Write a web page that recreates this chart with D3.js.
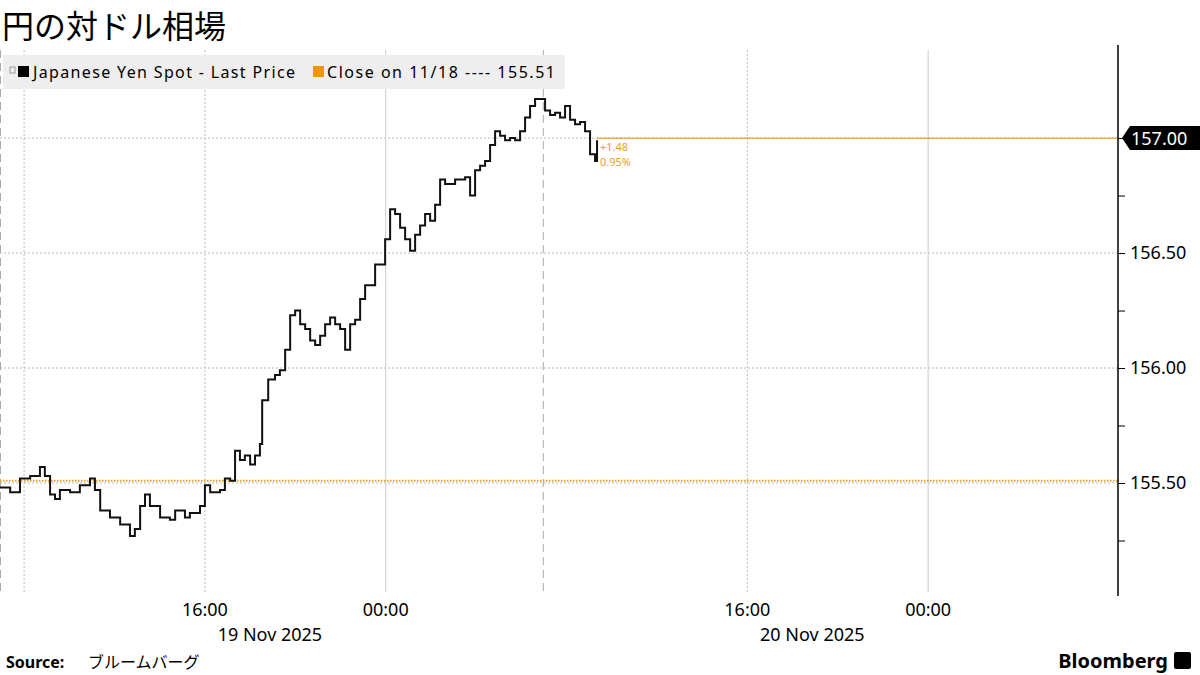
<!DOCTYPE html>
<html><head><meta charset="utf-8">
<script src="https://cdn.jsdelivr.net/npm/d3@7"></script>
<style>body{margin:0;background:#fff;font-family:"Noto Sans",Arial,sans-serif;}</style>
</head><body>
<script>
var title = "円の対ドル相場";
var startTime = "2025-11-19T06:56";
// minutes after startTime for each close
var earlyMinutes = [0,27,53,80,106,119,133,146,159,186,212,239,252,266,292,319,345,358,372,385,398,425,451,465,491,504,531,544,558,584,597,611,624,637,650,664,677,690,696,712,730,743];
var laterStart = 757, laterStep = 13.27, lastMinute = 1585;
var closes = [155.48,155.46,155.52,155.53,155.57,155.53,155.45,155.43,155.47,155.46,155.49,155.52,155.47,155.38,155.35,155.32,155.27,155.30,155.40,155.45,
155.40,155.35,155.34,155.38,155.35,155.37,155.40,155.49,155.46,155.47,155.52,155.51,155.64,155.60,155.62,155.58,155.62,155.67,155.86,155.95,
155.97,155.99,156.08,156.23,156.25,156.19,156.17,156.12,156.10,156.14,156.19,156.22,156.19,156.17,156.08,156.19,156.21,156.30,156.36,156.36,
156.45,156.45,156.56,156.69,156.67,156.61,156.56,156.51,156.58,156.62,156.67,156.64,156.71,156.82,156.80,156.80,156.82,156.82,156.83,156.75,
156.86,156.88,156.90,156.97,157.03,157.01,156.99,157.00,156.99,157.03,157.09,157.14,157.17,157.17,157.12,157.10,157.11,157.09,157.14,157.08,
157.06,157.07,157.03,156.93,156.90,156.99];
var prevClose = 155.51;
var lastPrice = 157.00;
var yTicks = [155.5, 156.0, 156.5, 157.0];
var yMinor = [155.25, 155.75, 156.25, 156.75];
var dottedTimes = ["2025-11-19T08:00","2025-11-19T16:00","2025-11-20T16:00"];
var dayTimes = ["2025-11-20T00:00","2025-11-21T00:00"];
var sessionTimes = ["2025-11-19T06:56","2025-11-20T06:57"];
var xLabels = [["2025-11-19T16:00","16:00","19 Nov 2025"],["2025-11-20T00:00","00:00",""],["2025-11-20T16:00","16:00","20 Nov 2025"],["2025-11-21T00:00","00:00",""]];

var W = 1200, H = 675, plotR = 1118, plotTop = 50, plotBottom = 592;
var parse = d3.utcParse("%Y-%m-%dT%H:%M");
var t0 = parse(startTime);
var data = closes.map(function(c, i){
  var m;
  if (i < earlyMinutes.length) m = earlyMinutes[i];
  else if (i === closes.length - 1) m = lastMinute;
  else m = laterStart + (i - earlyMinutes.length) * laterStep;
  return {t: new Date(+t0 + m*60000), v: c};
});

var svg = d3.select("body").append("svg").attr("width", W).attr("height", H);
var x = d3.scaleUtc().domain([parse("2025-11-19T06:56"), parse("2025-11-21T08:24")]).range([0, plotR]);
var y = d3.scaleLinear().domain([155.026, 157.383]).range([plotBottom, plotTop]);

svg.append("text").attr("x", 2).attr("y", 38).attr("font-size", 32)
  .attr("font-family", "Noto Sans CJK JP").text(title);

// grid
yTicks.forEach(function(v){
  svg.append("line").attr("x1", 0).attr("x2", plotR).attr("y1", y(v)).attr("y2", y(v))
    .attr("stroke", "#bbb").attr("stroke-dasharray", "2,2");
});
dottedTimes.forEach(function(s){
  svg.append("line").attr("x1", x(parse(s))).attr("x2", x(parse(s))).attr("y1", plotTop).attr("y2", plotBottom)
    .attr("stroke", "#bbb").attr("stroke-dasharray", "2,2");
});
dayTimes.forEach(function(s){
  svg.append("line").attr("x1", x(parse(s))).attr("x2", x(parse(s))).attr("y1", plotTop).attr("y2", plotBottom)
    .attr("stroke", "#ccc");
});
sessionTimes.forEach(function(s){
  svg.append("line").attr("x1", x(parse(s))+0.5).attr("x2", x(parse(s))+0.5).attr("y1", plotTop).attr("y2", plotBottom)
    .attr("stroke", "#aaa").attr("stroke-dasharray", "8,5");
});

// legend
svg.append("rect").attr("x", 3).attr("y", 55).attr("width", 562).attr("height", 34).attr("fill", "#eeeeee");
svg.append("rect").attr("x", 10).attr("y", 67).attr("width", 5).attr("height", 6).attr("fill", "none").attr("stroke", "#999");
svg.append("rect").attr("x", 18).attr("y", 66).attr("width", 11).attr("height", 11).attr("fill", "#000");
svg.append("text").attr("x", 33).attr("y", 78).attr("font-size", 16).attr("textLength", 262).text("Japanese Yen Spot - Last Price");
svg.append("rect").attr("x", 313).attr("y", 66).attr("width", 11).attr("height", 11).attr("fill", "#f0950a");
svg.append("text").attr("x", 327).attr("y", 78).attr("font-size", 16).attr("textLength", 228).text("Close on 11/18 ---- 155.51");

// previous close line
svg.append("line").attr("x1", 0).attr("x2", plotR).attr("y1", y(prevClose)).attr("y2", y(prevClose))
  .attr("stroke", "#f0a020").attr("stroke-width", 2).attr("stroke-dasharray", "1.5,1.5");

// price
svg.append("path").datum(data)
  .attr("d", d3.line().curve(d3.curveStepAfter).x(function(d){return x(d.t);}).y(function(d){return y(d.v);}))
  .attr("fill", "none").attr("stroke", "#111").attr("stroke-width", 2);

var last = data[data.length-1];
svg.append("line").attr("x1", x(last.t)).attr("x2", plotR).attr("y1", y(lastPrice)).attr("y2", y(lastPrice))
  .attr("stroke", "#f0a020").attr("stroke-width", 1.2);
svg.append("text").attr("x", x(last.t)+3).attr("y", y(lastPrice)+13).attr("font-size", 11).attr("fill", "#e8a030").text("+1.48");
svg.append("text").attr("x", x(last.t)+3).attr("y", y(lastPrice)+28).attr("font-size", 11).attr("fill", "#e8a030").text("0.95%");

// right axis
var ax = svg.append("g").attr("transform", "translate(" + plotR + ",0)")
  .call(d3.axisRight(y).tickValues(yTicks.concat(yMinor)).tickSize(7).tickFormat(function(d){ return yTicks.indexOf(d) >= 0 ? d3.format(".2f")(d) : ""; }));
ax.select(".domain").attr("stroke", "#000").attr("stroke-width", 1.5).attr("d", "M0," + (plotTop-5) + "V" + (plotBottom+4));
ax.selectAll("text").attr("font-size", 18).attr("x", 12).attr("fill", "#000").attr("font-family", "Noto Sans");
ax.selectAll(".tick").filter(function(d){ return d === lastPrice; }).select("text").remove();

var lg = svg.append("g").attr("transform", "translate(" + plotR + "," + y(lastPrice) + ")");
lg.append("path").attr("d", "M4,0 L12,-12 H82 V12 H12 Z").attr("fill", "#000");
lg.append("text").attr("x", 13).attr("y", 7).attr("font-size", 18).attr("fill", "#fff").text("157.00");

// x labels
xLabels.forEach(function(l){
  var px = x(parse(l[0]));
  svg.append("text").attr("x", px).attr("y", 616).attr("text-anchor", "middle").attr("font-size", 18).text(l[1]);
  if (l[2]) svg.append("text").attr("x", px + 65).attr("y", 641).attr("text-anchor", "middle").attr("font-size", 18).text(l[2]);
});

// footer
svg.append("text").attr("x", 6).attr("y", 668).attr("font-size", 16).attr("font-weight", "bold").text("Source:");
svg.append("text").attr("x", 88).attr("y", 668).attr("font-size", 16).attr("font-family", "Noto Sans CJK JP").text("ブルームバーグ");
svg.append("text").attr("x", 1168).attr("y", 668).attr("text-anchor", "end").attr("font-size", 20).attr("font-weight", "bold").text("Bloomberg");
svg.append("rect").attr("x", 1174).attr("y", 652).attr("width", 17).attr("height", 17).attr("rx", 2).attr("fill", "#000");
</script>
</body></html>
